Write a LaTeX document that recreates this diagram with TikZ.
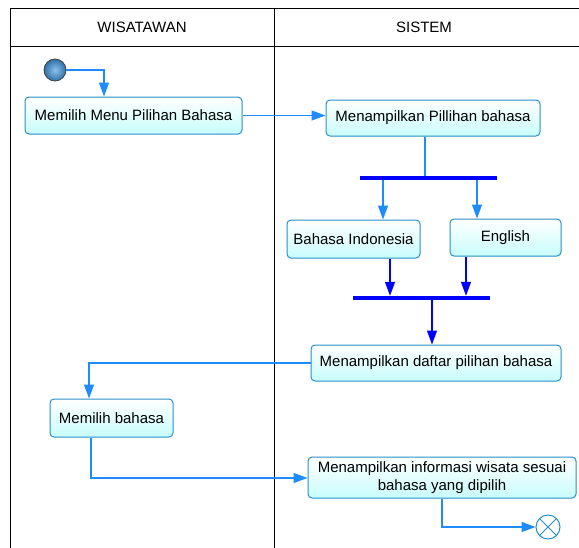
\documentclass[tikz,border=0pt]{standalone}
\usepackage{fontspec}
\setmainfont{Liberation Sans}
\usetikzlibrary{arrows.meta}
\definecolor{boxline}{HTML}{2A8FC8}
\definecolor{boxfill}{HTML}{C8FCFC}
\definecolor{flow}{HTML}{1E8CFF}
\definecolor{barblue}{HTML}{0000FF}
\definecolor{startin}{HTML}{8CC0E8}
\definecolor{startout}{HTML}{2E72AC}
\tikzset{
  act/.style={draw=boxline,line width=1pt,rounded corners=4pt,top color=white,bottom color=boxfill,
    inner sep=0pt,align=center,font=\fontsize{15}{18}\selectfont},
  flowarrow/.style={draw=flow,line width=1.2pt,-{Triangle[length=14pt,width=10pt]}},
  joinarrow/.style={draw=barblue,line width=1.2pt,-{Triangle[length=14pt,width=10pt]}},
  forkbar/.style={draw=none,fill=barblue,inner sep=0pt,minimum height=4pt},
}
\begin{document}
\begin{tikzpicture}[x=1pt,y=-1pt]
\useasboundingbox (0,0) rectangle (579,547);
% lanes
\draw[line width=1pt] (10,560) -- (10,8) -- (600,8);
\draw[line width=1pt] (10,46) -- (600,46);
\draw[line width=1pt] (274,8) -- (274,560);
\node[font=\fontsize{15}{18}\selectfont] (laneA) at (142,27) {WISATAWAN};
\node[font=\fontsize{15}{18}\selectfont] (laneB) at (424,27) {SISTEM};

% start and end
\node[circle,draw=black!75,line width=0.8pt,inner sep=0pt,minimum size=22pt,
  inner color=startin,outer color=startout] (start) at (55,70) {};
\node[circle,draw=boxline,line width=1pt,fill=white,minimum size=24pt,inner sep=0pt] (stopx) at (548,527) {};
\draw[draw=boxline,line width=1pt] (stopx.45) -- (stopx.225) (stopx.135) -- (stopx.315);

% activities
\node[act,minimum width=217pt,minimum height=37pt] (menu) at (133.5,115.5) {Memilih Menu Pilihan Bahasa};
\node[act,minimum width=214pt,minimum height=36pt] (pilihan) at (433,118) {Menampilkan Pillihan bahasa};
\node[act,minimum width=133pt,minimum height=38pt] (indo) at (353.5,239) {Bahasa Indonesia};
\node[act,minimum width=111pt,minimum height=37pt] (english) at (505.5,237.5) {English};
\node[act,minimum width=250pt,minimum height=36pt] (daftar) at (436,363) {Menampilkan daftar pilihan bahasa};
\node[act,minimum width=123pt,minimum height=38pt] (pilih) at (111.5,418) {Memilih bahasa};
\node[act,minimum width=268pt,minimum height=41pt] (info) at (442,477.5) {Menampilkan informasi wisata sesuai\\bahasa yang dipilih};

% bars
\node[forkbar,minimum width=137pt] (fork) at (428.5,178) {};
\node[forkbar,minimum width=137pt] (join) at (421.5,298) {};

% flows
\draw[flowarrow] (start.east) -- (104,70) -- (menu.north -| 104,0);
\draw[flowarrow] (menu.east) -- (pilihan.west |- menu.east);
\draw[draw=flow,line width=1.2pt] (pilihan.south -| 425,0) -- (fork.north -| 425,0);
\draw[flowarrow] (fork.south -| 383,0) -- (indo.north -| 383,0);
\draw[flowarrow] (fork.south -| 477,0) -- (english.north -| 477,0);
\draw[joinarrow] (indo.south -| 390,0) -- (join.north -| 390,0);
\draw[joinarrow] (english.south -| 466,0) -- (join.north -| 466,0);
\draw[joinarrow] (join.south -| 432,0) -- (daftar.north -| 432,0);
\draw[flowarrow] (daftar.west) -- (89,363) -- (pilih.north -| 89,0);
\draw[flowarrow] (pilih.south -| 91,0) -- (91,478) -- (info.west |- 0,478);
\draw[flowarrow] (info.south -| 442,0) -- (442,527) -- (stopx.west);
\end{tikzpicture}
\end{document}
